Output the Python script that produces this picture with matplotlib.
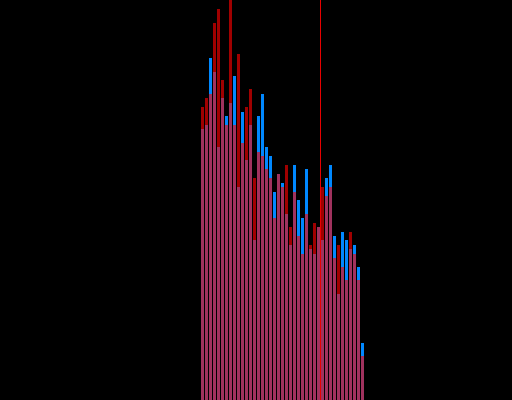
import numpy as np
import matplotlib
matplotlib.use('Agg')
import matplotlib.pyplot as plt


# bar heights, one per bin
blue_counts = [271, 275, 342, 328, 253, 302, 284, 297, 324, 213,
               288, 240, 275, 160, 284, 306, 253, 244, 208, 226,
               217, 186, 155, 235, 200, 182, 231, 151, 146, 173,
               160, 222, 235, 164, 106, 168, 160, 151, 155, 133, 57]
red_counts = [293, 302, 306, 377, 391, 320, 275, 420, 275, 346,
              257, 293, 311, 222, 248, 244, 231, 222, 182, 226,
              213, 235, 173, 208, 164, 146, 186, 155, 177, 173,
              213, 204, 213, 142, 155, 133, 120, 168, 146, 120, 44]
marker_pos = 29.5


def draw():
    bins = np.arange(len(blue_counts))
    fig = plt.figure(figsize=(5.12, 4.0), dpi=100, facecolor='black')
    ax = fig.add_axes([0, 0, 1, 1])
    ax.set_facecolor('black')

    ax.bar(bins, blue_counts, width=0.75, color='#0088ff', linewidth=0)
    ax.bar(bins, red_counts, width=0.75, color='#ff0000', alpha=0.63, linewidth=0)
    # marker drawn as a one-pixel-wide span so it stays crisp
    ax.axvspan(marker_pos - 0.125, marker_pos + 0.125, color='#e80000', linewidth=0, zorder=5)

    ax.set_xlim(-50.625, 77.375)
    ax.set_ylim(0, 400)
    ax.axis('off')
    fig.savefig('out.png', dpi=100, facecolor='black')


if __name__ == '__main__':
    draw()
